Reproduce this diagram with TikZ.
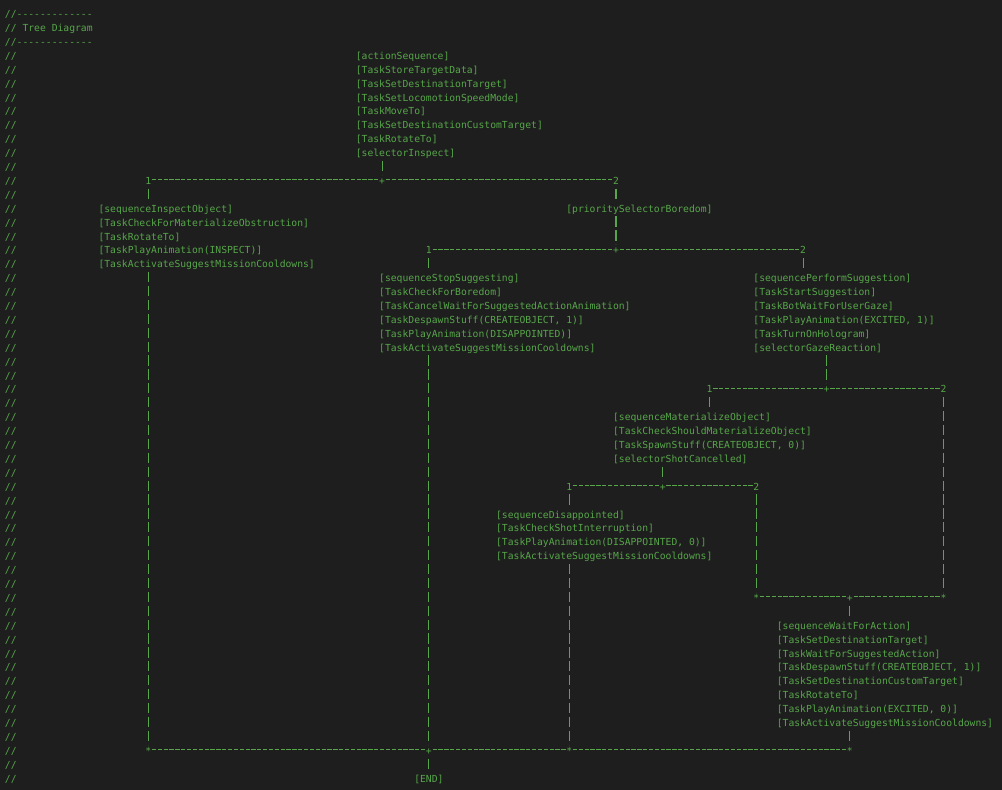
\documentclass[tikz,border=0pt]{standalone}
\usepackage{fontspec}
\setmonofont{DejaVu Sans Mono}
\usepackage{tikz}
\definecolor{bgcol}{HTML}{1E1E1E}
\definecolor{cmtcol}{HTML}{57A64A}
\newcommand\colx[1]{5+5.847*#1}
\newcommand\rowbase[1]{17.6+13.9*#1}
\newcommand\rowtop[1]{7.9+13.9*#1}
\newcommand\rw{\rule[-4.2pt]{0pt}{13.9pt}}
\tikzset{
  jn/.style={anchor=base west, inner sep=0pt, outer sep=0pt, text=cmtcol,
    text height=9.7pt, text depth=0.5pt}}

\begin{document}
\begin{tikzpicture}[x=1pt, y=-1pt,
      font=\ttfamily\fontsize{9.71pt}{13.9pt}\selectfont,
      cmt/.style={anchor=base west, inner sep=0pt, outer sep=0pt, text=cmtcol},
      blk/.style={anchor=north west, inner sep=0pt, outer sep=0pt, align=left,
        text=cmtcol},
      vbar/.style={draw=cmtcol, line width=1.1pt, dash pattern=on 10.2pt off 3.7pt},
      vjoin/.style={vbar, dash phase=10.2pt},
      hbar/.style={draw=cmtcol, line width=1pt, dash pattern=on 4.3pt off 1.547pt,
        dash phase=5.07pt}]
      \fill[bgcol] (0,0) rectangle (1002,790);
      \node[cmt] (hd0) at ({\colx{0}},{\rowbase{0}}) {//-------------};
      \node[cmt] (hd1) at ({\colx{0}},{\rowbase{1}}) {// Tree Diagram};
      \node[cmt] (hd2) at ({\colx{0}},{\rowbase{2}}) {//-------------};
      \foreach \i in {3,...,55}
        \node[cmt] (cm\i) at ({\colx{0}},{\rowbase{\i}}) {//};
      \node[blk] (root) at ({\colx{60}},{\rowtop{3}})
        {\rw[actionSequence]\\\rw[TaskStoreTargetData]\\\rw[TaskSetDestinationTarget]\\
         \rw[TaskSetLocomotionSpeedMode]\\\rw[TaskMoveTo]\\\rw[TaskSetDestinationCustomTarget]\\
         \rw[TaskRotateTo]\\\rw[selectorInspect]};
      \node[jn] (ja1) at ({\colx{24}},{\rowbase{12}}) {1};
      \node[jn] (jap) at ({\colx{64}},{\rowbase{12}}) {+};
      \node[jn] (ja2) at ({\colx{104}},{\rowbase{12}}) {2};
      \node[blk] (inspect) at ({\colx{16}},{\rowtop{14}})
        {\rw[sequenceInspectObject]\\\rw[TaskCheckForMaterializeObstruction]\\\rw[TaskRotateTo]\\
         \rw[TaskPlayAnimation(INSPECT)]\\\rw[TaskActivateSuggestMissionCooldowns]};
      \node[blk] (prio) at ({\colx{96}},{\rowtop{14}}) {\rw[prioritySelectorBoredom]};
      \node[jn] (jb1) at ({\colx{72}},{\rowbase{17}}) {1};
      \node[jn] (jbp) at ({\colx{104}},{\rowbase{17}}) {+};
      \node[jn] (jb2) at ({\colx{136}},{\rowbase{17}}) {2};
      \node[blk] (stop) at ({\colx{64}},{\rowtop{19}})
        {\rw[sequenceStopSuggesting]\\\rw[TaskCheckForBoredom]\\
         \rw[TaskCancelWaitForSuggestedActionAnimation]\\\rw[TaskDespawnStuff(CREATEOBJECT, 1)]\\
         \rw[TaskPlayAnimation(DISAPPOINTED)]\\\rw[TaskActivateSuggestMissionCooldowns]};
      \node[blk] (perform) at ({\colx{128}},{\rowtop{19}})
        {\rw[sequencePerformSuggestion]\\\rw[TaskStartSuggestion]\\\rw[TaskBotWaitForUserGaze]\\
         \rw[TaskPlayAnimation(EXCITED, 1)]\\\rw[TaskTurnOnHologram]\\\rw[selectorGazeReaction]};
      \node[jn] (jc1) at ({\colx{120}},{\rowbase{27}}) {1};
      \node[jn] (jcp) at ({\colx{140}},{\rowbase{27}}) {+};
      \node[jn] (jc2) at ({\colx{160}},{\rowbase{27}}) {2};
      \node[blk] (materialize) at ({\colx{104}},{\rowtop{29}})
        {\rw[sequenceMaterializeObject]\\\rw[TaskCheckShouldMaterializeObject]\\
         \rw[TaskSpawnStuff(CREATEOBJECT, 0)]\\\rw[selectorShotCancelled]};
      \node[jn] (jd1) at ({\colx{96}},{\rowbase{34}}) {1};
      \node[jn] (jdp) at ({\colx{112}},{\rowbase{34}}) {+};
      \node[jn] (jd2) at ({\colx{128}},{\rowbase{34}}) {2};
      \node[blk] (disappointed) at ({\colx{84}},{\rowtop{36}})
        {\rw[sequenceDisappointed]\\\rw[TaskCheckShotInterruption]\\
         \rw[TaskPlayAnimation(DISAPPOINTED, 0)]\\\rw[TaskActivateSuggestMissionCooldowns]};
      \node[jn] (jea) at ({\colx{128}},{\rowbase{42}}) {*};
      \node[jn] (jep) at ({\colx{144}},{\rowbase{42}}) {+};
      \node[jn] (jeb) at ({\colx{160}},{\rowbase{42}}) {*};
      \node[blk] (wait) at ({\colx{132}},{\rowtop{44}})
        {\rw[sequenceWaitForAction]\\\rw[TaskSetDestinationTarget]\\\rw[TaskWaitForSuggestedAction]\\
         \rw[TaskDespawnStuff(CREATEOBJECT, 1)]\\\rw[TaskSetDestinationCustomTarget]\\\rw[TaskRotateTo]\\
         \rw[TaskPlayAnimation(EXCITED, 0)]\\\rw[TaskActivateSuggestMissionCooldowns]};
      \node[jn] (jfa) at ({\colx{24}},{\rowbase{53}}) {*};
      \node[jn] (jfp) at ({\colx{72}},{\rowbase{53}}) {+};
      \node[jn] (jfb) at ({\colx{96}},{\rowbase{53}}) {*};
      \node[jn] (jfc) at ({\colx{144}},{\rowbase{53}}) {*};
      \node[blk] (end) at ({\colx{70}},{\rowtop{55}}) {\rw[END]};
      \draw[hbar] (ja1.east) -- (jap.west);
      \draw[hbar] (jap.east) -- (ja2.west);
      \draw[hbar] (jb1.east) -- (jbp.west);
      \draw[hbar] (jbp.east) -- (jb2.west);
      \draw[hbar] (jc1.east) -- (jcp.west);
      \draw[hbar] (jcp.east) -- (jc2.west);
      \draw[hbar] (jd1.east) -- (jdp.west);
      \draw[hbar] (jdp.east) -- (jd2.west);
      \draw[hbar] (jea.east) -- (jep.west);
      \draw[hbar] (jep.east) -- (jeb.west);
      \draw[hbar] (jfa.east) -- (jfp.west);
      \draw[hbar] (jfp.east) -- (jfb.west);
      \draw[hbar] (jfb.east) -- (jfc.west);
      \draw[vbar] (root.south -| jap) -- (jap.north);
      \draw[vjoin] (ja1.south) -- (inspect.north -| ja1);
      \draw[vbar] (inspect.south -| ja1) -- (jfa.north);
      \draw[vjoin] (ja2.south) -- (prio.north -| ja2);
      \draw[vbar] (prio.south -| jbp) -- (jbp.north);
      \draw[vjoin] (jb1.south) -- (stop.north -| jb1);
      \draw[vbar] (stop.south -| jfp) -- (jfp.north);
      \draw[vjoin] (jb2.south) -- (perform.north -| jb2);
      \draw[vbar] (perform.south -| jcp) -- (jcp.north);
      \draw[vjoin] (jc1.south) -- (materialize.north -| jc1);
      \draw[vbar] (materialize.south -| jdp) -- (jdp.north);
      \draw[vjoin] (jc2.south) -- (jeb.north);
      \draw[vjoin] (jd1.south) -- (disappointed.north -| jd1);
      \draw[vbar] (disappointed.south -| jfb) -- (jfb.north);
      \draw[vjoin] (jd2.south) -- (jea.north);
      \draw[vjoin] (jep.south) -- (wait.north -| jep);
      \draw[vbar] (wait.south -| jfc) -- (jfc.north);
      \draw[vjoin] (jfp.south) -- (end.north -| jfp);
    \end{tikzpicture}
\end{document}
